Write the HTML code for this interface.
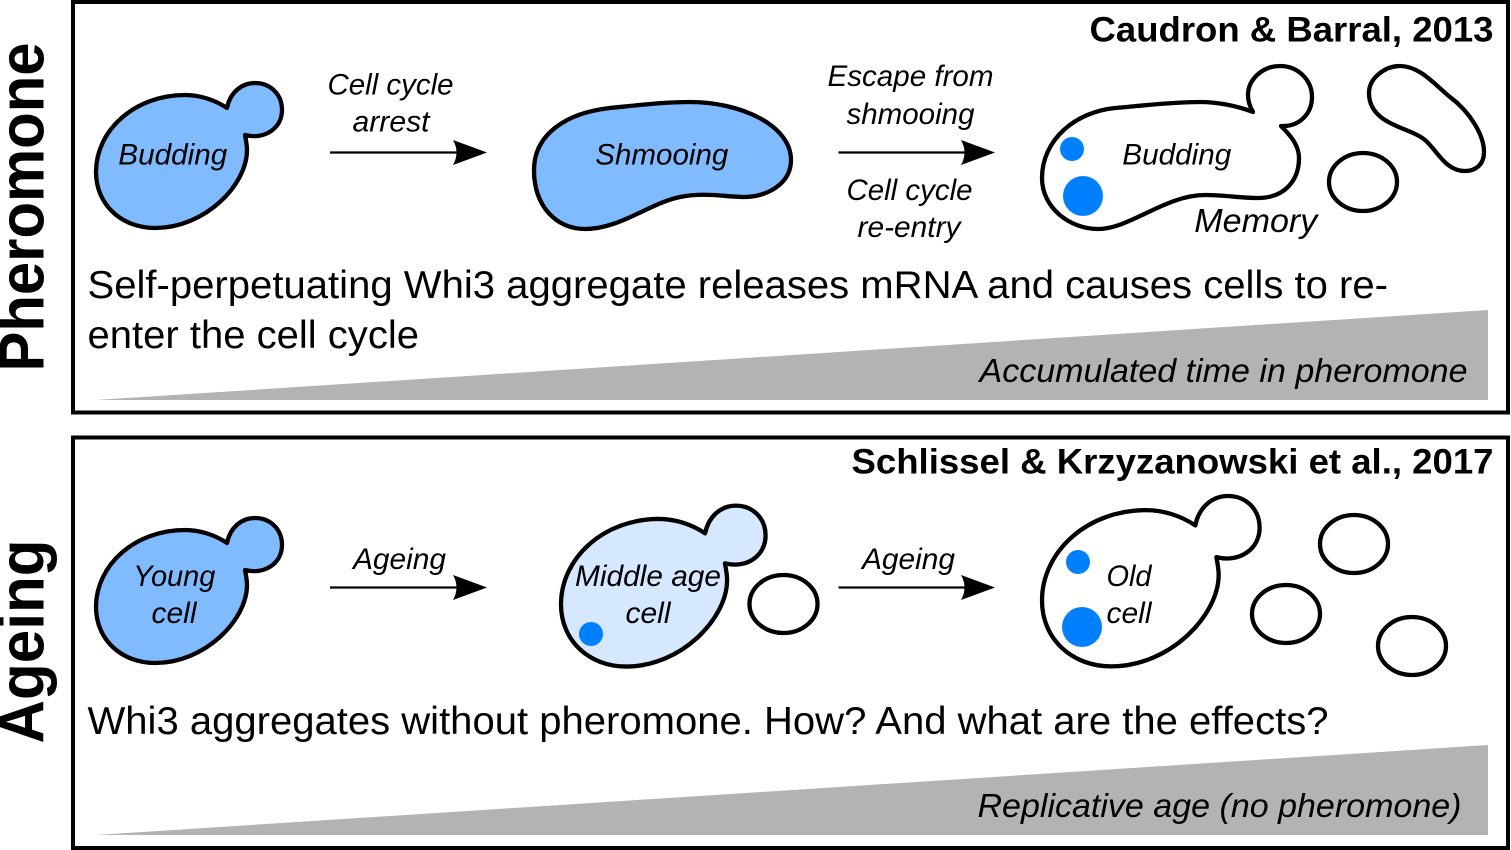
<!DOCTYPE html>
<html><head><meta charset="utf-8"><style>
html,body{margin:0;padding:0;background:#fff}
svg{display:block}
text{font-family:"Liberation Sans",sans-serif;fill:#000}
.i{font-style:italic;font-size:30px}
.m{font-size:39px}
.b{font-weight:bold;font-size:35.5px}
.g{font-style:italic;font-size:33.5px}
.v{font-weight:bold;font-size:64px}
.c{stroke:#000;stroke-width:4.3;stroke-linejoin:round;fill:none}
</style></head><body>
<svg width="1511" height="850" viewBox="0 0 1511 850" xmlns="http://www.w3.org/2000/svg">
<defs>
<path id="cell" d="M227,108 C215,100 200,95 185,95 C135,95 96,130 96,172 C96,205 122,228 155,228 C205,228 247,185 247,150 C247,145 246,140 245,135 C265,140 282,128 282,110 C282,94 270,83 255,83 C241,83 230,93 227,108 Z"/>
<path id="arr" d="M453,140 L487,152.500 L453,165 Q460,152.500 453,140 Z"/>
</defs>
<rect width="1511" height="850" fill="#fff"/>
<rect x="73" y="2" width="1435" height="410.500" fill="none" stroke="#000" stroke-width="4"/>
<rect x="73" y="437.500" width="1435" height="410.500" fill="none" stroke="#000" stroke-width="4"/>
<polygon points="96,400 1488,310 1488,400" fill="#b3b3b3"/>
<polygon points="96,835 1488,745 1488,835" fill="#b3b3b3"/>

<text class="v" transform="translate(43.500,371.500) rotate(-90)" textLength="329" lengthAdjust="spacingAndGlyphs">Pheromone</text>
<text class="v" transform="translate(43.500,743.500) rotate(-90)" textLength="204" lengthAdjust="spacingAndGlyphs">Ageing</text>

<use href="#cell" class="c" style="fill:#80bbff"/>
<use href="#cell" class="c" style="fill:#80bbff" transform="translate(0,435)"/>
<path class="c" vector-effect="non-scaling-stroke" style="fill:#d5e8ff" transform="translate(455.400,413.500) scale(1.1,1.11)" d="M227,108 C215,100 200,95 185,95 C135,95 96,130 96,172 C96,205 122,228 155,228 C205,228 247,185 247,150 C247,145 246,140 245,135 C265,140 282,128 282,110 C282,94 270,83 255,83 C241,83 230,93 227,108 Z"/>
<path class="c" vector-effect="non-scaling-stroke" transform="translate(929.680,398.500) scale(1.17,1.175)" d="M227,108 C215,100 200,95 185,95 C135,95 96,130 96,172 C96,205 122,228 155,228 C205,228 247,185 247,150 C247,145 246,140 245,135 C265,140 282,128 282,110 C282,94 270,83 255,83 C241,83 230,93 227,108 Z"/>

<path class="c" style="fill:#80bbff" d="M534,170 C534,135 565,113 610,108 C640,105 665,102 690,102 C740,102 791,125 791,160 C791,185 765,197 745,197 C725,197 705,192 680,197 C650,203 620,229 585,229 C557,229 534,207 534,170 Z"/>
<path class="c" d="M1253,112 C1235,105 1215,102 1200,102 C1170,102 1140,106 1115,108 C1075,112 1042,140 1042,178 C1042,208 1070,229 1098,229 C1130,229 1165,195 1205,195 C1225,195 1240,198 1258,198 C1285,198 1299,180 1299,158 C1299,145 1290,135 1281,126 C1300,127 1312,113 1312,97 C1312,80 1298,66 1280,66 C1262,66 1248,80 1248,95 C1248,102 1250,107 1253,112 Z"/>
<path class="c" d="M1369,93 C1369,78 1385,66 1400,66 C1420,66 1435,85 1450,97 C1470,112 1484,135 1484,152 C1484,165 1475,171 1465,171 C1445,171 1437,150 1425,140 C1410,127 1369,125 1369,93 Z"/>

<ellipse class="c" cx="1363" cy="182" rx="34" ry="29"/>
<ellipse class="c" cx="783.500" cy="604" rx="34" ry="29"/>
<ellipse class="c" cx="1354" cy="544" rx="34" ry="29"/>
<ellipse class="c" cx="1286" cy="614" rx="34" ry="29"/>
<ellipse class="c" cx="1412" cy="646" rx="34" ry="29"/>

<g fill="#007fff">
<circle cx="1072" cy="149" r="12"/><circle cx="1083" cy="196" r="20"/>
<circle cx="591" cy="634" r="12"/>
<circle cx="1078" cy="562" r="12"/><circle cx="1082" cy="627" r="20"/>
</g>

<g stroke="#000" stroke-width="2.200">
<line x1="330" y1="152.500" x2="465" y2="152.500"/>
<line x1="838.500" y1="152.500" x2="973" y2="152.500"/>
<line x1="330" y1="587.500" x2="465" y2="587.500"/>
<line x1="838.500" y1="587.500" x2="973" y2="587.500"/>
</g>
<use href="#arr"/>
<use href="#arr" transform="translate(508,0)"/>
<use href="#arr" transform="translate(0,435)"/>
<use href="#arr" transform="translate(508,435)"/>

<text class="b" x="1089.500" y="41.500" textLength="404" lengthAdjust="spacingAndGlyphs">Caudron &amp; Barral, 2013</text>
<text class="b" x="851.500" y="473.500" textLength="642" lengthAdjust="spacingAndGlyphs">Schlissel &amp; Krzyzanowski et al., 2017</text>
<text class="m" x="87.500" y="298" textLength="1300.500" lengthAdjust="spacingAndGlyphs">Self-perpetuating Whi3 aggregate releases mRNA and causes cells to re-</text>
<text class="m" x="87.500" y="348" textLength="331.500" lengthAdjust="spacingAndGlyphs">enter the cell cycle</text>
<text class="m" x="87.500" y="734" textLength="1241" lengthAdjust="spacingAndGlyphs">Whi3 aggregates without pheromone. How? And what are the effects?</text>
<text class="g" x="979.500" y="382" textLength="488" lengthAdjust="spacingAndGlyphs">Accumulated time in pheromone</text>
<text class="g" x="977.500" y="817" textLength="484" lengthAdjust="spacingAndGlyphs">Replicative age (no pheromone)</text>

<text class="i" x="118.300" y="164.500" textLength="109" lengthAdjust="spacingAndGlyphs">Budding</text>
<text class="i" x="327.500" y="94.500" textLength="126" lengthAdjust="spacingAndGlyphs">Cell cycle</text>
<text class="i" x="352.500" y="131.500" textLength="77" lengthAdjust="spacingAndGlyphs">arrest</text>
<text class="i" x="595.300" y="164.500" textLength="133" lengthAdjust="spacingAndGlyphs">Shmooing</text>
<text class="i" x="827.500" y="86" textLength="166" lengthAdjust="spacingAndGlyphs">Escape from</text>
<text class="i" x="846.500" y="124" textLength="128" lengthAdjust="spacingAndGlyphs">shmooing</text>
<text class="i" x="846.500" y="200" textLength="126" lengthAdjust="spacingAndGlyphs">Cell cycle</text>
<text class="i" x="857.500" y="237" textLength="103" lengthAdjust="spacingAndGlyphs">re-entry</text>
<text class="i" x="1122.300" y="164.500" textLength="109" lengthAdjust="spacingAndGlyphs">Budding</text>
<text class="g" x="1194.300" y="232" textLength="123" lengthAdjust="spacingAndGlyphs">Memory</text>
<text class="i" x="133.300" y="586" textLength="82" lengthAdjust="spacingAndGlyphs">Young</text>
<text class="i" x="151.500" y="623" textLength="45" lengthAdjust="spacingAndGlyphs">cell</text>
<text class="i" x="353" y="569" textLength="93" lengthAdjust="spacingAndGlyphs">Ageing</text>
<text class="i" x="862" y="569" textLength="93" lengthAdjust="spacingAndGlyphs">Ageing</text>
<text class="i" x="575" y="586" textLength="146" lengthAdjust="spacingAndGlyphs">Middle age</text>
<text class="i" x="625.500" y="623" textLength="45" lengthAdjust="spacingAndGlyphs">cell</text>
<text class="i" x="1106.500" y="586" textLength="45" lengthAdjust="spacingAndGlyphs">Old</text>
<text class="i" x="1106.500" y="623" textLength="45" lengthAdjust="spacingAndGlyphs">cell</text>
</svg>
</body></html>
